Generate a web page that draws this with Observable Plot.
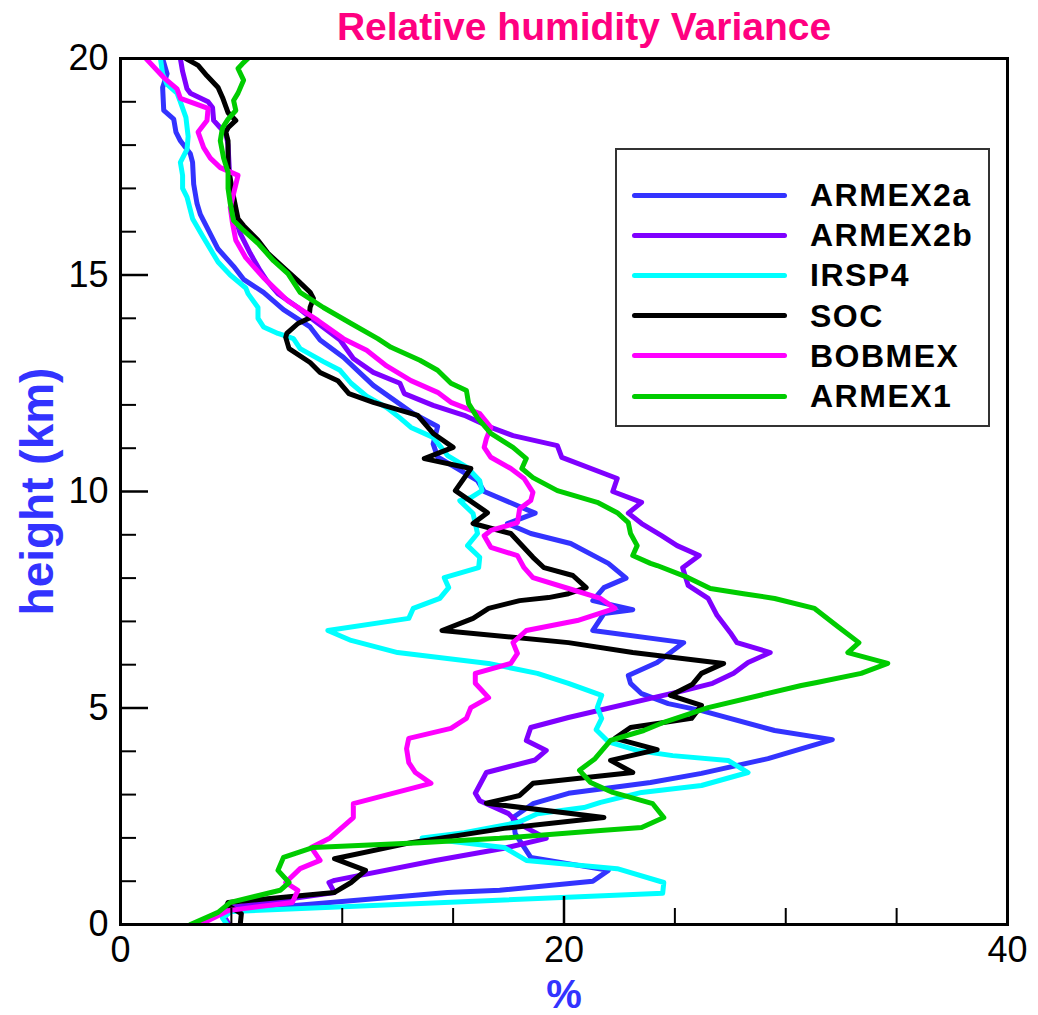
<!DOCTYPE html>
<html>
<head>
<meta charset="utf-8">
<script src="https://cdn.jsdelivr.net/npm/d3@7"></script>
<script src="https://cdn.jsdelivr.net/npm/@observablehq/plot@0.6"></script>
<style>
  html, body { margin: 0; padding: 0; background: #fff; }
  #wrap { position: relative; width: 1038px; height: 1015px; font-family: "Liberation Sans", Arial, sans-serif; }
  #legend { position: absolute; left: 615px; top: 148px; width: 371px; height: 275px; border: 2px solid #333; background: #fff; }
  #legend .sw { position: absolute; left: 15px; width: 155px; height: 5px; border-radius: 3px; }
  #legend .lb { position: absolute; left: 193px; font-weight: bold; font-size: 32px; letter-spacing: 1.5px; line-height: 32px; color: #000; white-space: nowrap; }
</style>
</head>
<body>
<div id="wrap"><div id="chart"></div><div id="legend"></div></div>
<script>
// ---- data: [relative humidity variance (%), height (km)] ----
const names = ["ARMEX2a", "ARMEX2b", "IRSP4", "SOC", "BOBMEX", "ARMEX1"];
const colors = ["#3333ff", "#7f00ff", "#00ffff", "#000000", "#ff00ff", "#00cc00"];

const armex2a = [[1.9,20.0],[2.1,19.65],[1.9,19.33],[1.95,18.8],[2.4,18.6],[2.5,18.3],[2.7,18.1],[3.15,17.8],[3.25,17.6],[3.3,17.1],[3.45,16.65],[3.6,16.4],[3.9,16.1],[4.4,15.6],[5.1,15.2],[5.55,14.9],[6.45,14.6],[7.35,14.2],[8.55,13.8],[9.0,13.5],[10.05,13.1],[11.4,12.45],[13.2,11.8],[14.3,11.5],[14.1,11.1],[14.3,10.8],[16.1,10.25],[16.4,10.0],[18.7,9.5],[17.45,9.26],[18.5,9.03],[20.3,8.8],[22.0,8.34],[22.8,8.0],[21.8,7.78],[21.3,7.48],[23.1,7.27],[21.8,7.18],[21.3,6.79],[25.4,6.51],[24.2,6.05],[22.9,5.75],[23.0,5.57],[23.5,5.33],[24.7,5.1],[26.2,4.94],[29.5,4.48],[32.1,4.27],[29.2,3.83],[26.2,3.49],[23.9,3.28],[20.2,3.03],[18.6,2.79],[17.7,2.47],[17.8,2.1],[18.5,1.55],[22.0,1.25],[21.3,1.0],[17.1,0.79],[14.75,0.74],[5.1,0.32],[4.6,0.25],[4.8,0.0]];

const armex2b = [[2.7,20.0],[2.8,19.7],[3.0,19.3],[3.15,19.2],[3.95,19.0],[4.15,18.87],[4.2,18.57],[4.5,18.4],[4.75,18.27],[4.85,18.0],[4.9,17.5],[4.95,17.0],[5.05,16.5],[5.4,15.96],[5.85,15.5],[6.3,15.1],[6.6,14.87],[7.1,14.57],[8.0,14.25],[8.6,14.0],[9.9,13.5],[10.5,13.07],[11.4,12.75],[12.6,12.5],[12.8,12.26],[14.1,11.99],[15.5,11.76],[16.7,11.48],[17.7,11.29],[19.7,11.06],[19.9,10.79],[22.4,10.3],[22.2,10.0],[23.5,9.75],[22.9,9.5],[23.5,9.26],[24.4,8.98],[25.1,8.75],[26.1,8.52],[25.35,8.24],[25.6,7.83],[26.5,7.53],[26.9,7.14],[27.5,6.74],[27.8,6.51],[29.3,6.28],[28.3,6.05],[27.65,5.8],[26.7,5.57],[25.4,5.4],[20.2,4.78],[18.5,4.55],[18.3,4.25],[19.2,4.02],[18.7,3.8],[16.5,3.51],[16.0,3.03],[16.2,2.86],[17.5,2.56],[17.95,2.33],[19.2,1.99],[17.3,1.76],[14.2,1.48],[9.65,1.02],[9.4,0.97],[9.65,0.74],[5.0,0.4],[4.6,0.25],[4.9,0.0]];

const irsp4 = [[1.8,20.0],[1.9,19.65],[2.1,19.4],[2.55,19.2],[2.7,19.0],[2.95,18.64],[3.05,18.2],[3.0,17.9],[2.7,17.6],[2.8,17.3],[2.8,17.0],[3.0,16.8],[3.25,16.3],[3.7,15.9],[4.4,15.3],[4.95,15.0],[5.65,14.7],[5.75,14.57],[6.2,14.25],[6.2,14.0],[6.45,13.8],[7.1,13.65],[7.8,13.53],[8.1,13.3],[9.15,13.0],[9.9,12.8],[10.4,12.5],[11.1,12.2],[12.0,11.94],[12.6,11.7],[13.1,11.48],[14.1,11.25],[14.75,10.83],[15.65,10.55],[16.2,10.25],[16.3,10.02],[15.8,9.86],[15.3,9.79],[15.9,9.49],[16.1,9.03],[15.65,8.75],[16.2,8.48],[16.15,8.24],[14.6,8.01],[14.8,7.78],[14.4,7.53],[13.2,7.3],[13.0,7.07],[9.35,6.79],[10.4,6.56],[12.5,6.28],[16.6,6.03],[18.8,5.8],[20.2,5.57],[21.7,5.29],[21.5,5.01],[21.7,4.76],[21.45,4.5],[22.0,4.22],[23.3,4.02],[24.9,3.9],[27.4,3.79],[28.3,3.51],[26.2,3.21],[23.5,3.05],[21.65,2.82],[20.9,2.7],[18.8,2.56],[17.95,2.36],[15.5,2.12],[13.6,2.0],[17.3,1.78],[18.3,1.48],[22.4,1.29],[24.5,0.97],[24.45,0.72],[5.0,0.3],[4.6,0.15],[4.8,0.0]];

const soc = [[2.95,20.0],[3.5,19.84],[3.9,19.6],[4.4,19.33],[4.6,19.1],[4.85,18.75],[5.2,18.57],[4.85,18.4],[4.75,18.3],[4.85,18.1],[4.85,17.5],[5.1,16.8],[5.3,16.3],[5.55,16.14],[6.2,15.8],[6.65,15.5],[7.35,15.17],[8.0,14.87],[8.55,14.6],[8.7,14.46],[8.55,14.25],[8.5,14.0],[8.0,13.88],[7.5,13.65],[7.45,13.56],[7.6,13.3],[8.55,12.98],[9.0,12.75],[9.8,12.56],[10.3,12.26],[11.4,12.06],[13.4,11.76],[14.1,11.34],[15.0,11.02],[13.7,10.76],[15.8,10.53],[15.1,10.02],[16.55,9.51],[15.9,9.26],[17.6,9.03],[18.6,8.48],[19.1,8.24],[20.4,8.06],[21.0,7.78],[20.2,7.64],[19.3,7.55],[18.0,7.48],[16.6,7.3],[15.9,7.07],[14.5,6.79],[20.2,6.51],[23.1,6.28],[27.2,6.03],[26.2,5.8],[25.8,5.55],[24.8,5.29],[26.2,5.06],[25.75,4.76],[23.0,4.55],[22.3,4.3],[24.2,4.04],[22.1,3.79],[23.1,3.51],[18.6,3.26],[18.0,2.98],[16.5,2.8],[21.8,2.47],[17.3,2.22],[13.1,1.89],[9.65,1.52],[11.05,1.25],[10.4,0.97],[9.65,0.74],[4.85,0.51],[4.8,0.45],[5.45,0.25],[5.4,0.0]];

const bobmex = [[1.15,20.0],[1.95,19.56],[2.55,19.3],[2.7,19.08],[3.95,18.85],[3.9,18.57],[3.5,18.3],[3.75,17.94],[4.05,17.7],[4.5,17.48],[5.3,17.3],[5.1,16.88],[4.95,16.56],[5.05,16.2],[5.2,15.8],[5.65,15.4],[6.45,14.94],[7.55,14.4],[8.9,13.95],[10.05,13.53],[11.1,13.26],[12.0,12.9],[13.1,12.56],[14.3,12.29],[14.9,12.06],[16.2,11.8],[16.7,11.48],[16.5,11.22],[16.4,11.02],[16.7,10.79],[17.6,10.53],[18.2,10.3],[18.6,9.98],[18.5,9.79],[18.0,9.6],[17.9,9.28],[16.7,9.1],[16.4,8.98],[16.7,8.71],[17.9,8.52],[18.2,8.24],[18.6,8.01],[20.2,7.76],[21.65,7.53],[22.3,7.3],[20.6,7.02],[18.3,6.79],[17.7,6.51],[17.9,6.26],[17.6,6.03],[16.0,5.8],[16.0,5.57],[16.6,5.24],[15.8,5.01],[15.6,4.76],[14.9,4.53],[13.0,4.3],[12.9,4.06],[13.0,3.74],[13.3,3.51],[14.0,3.26],[10.5,2.79],[10.5,2.47],[9.45,2.0],[8.6,1.78],[9.0,1.48],[8.1,1.29],[7.45,0.97],[8.0,0.79],[7.75,0.51],[4.85,0.32],[3.6,0.0]];

const armex1 = [[5.75,20.0],[5.5,19.88],[5.3,19.77],[5.55,19.5],[5.3,19.2],[5.1,19.03],[5.2,18.8],[4.85,18.6],[4.6,18.4],[4.5,18.1],[4.65,17.7],[4.85,17.37],[4.85,17.0],[4.95,16.65],[5.1,16.26],[5.55,16.03],[6.2,15.73],[6.9,15.33],[7.55,15.03],[8.1,14.6],[9.15,14.25],[10.4,13.88],[11.6,13.53],[12.2,13.33],[13.5,13.03],[14.3,12.8],[14.9,12.5],[15.6,12.33],[15.7,12.03],[16.1,11.7],[16.7,11.34],[17.7,11.02],[18.3,10.76],[18.1,10.53],[18.6,10.32],[19.7,10.02],[21.5,9.75],[22.4,9.51],[22.9,9.28],[23.0,9.03],[23.3,8.75],[23.1,8.52],[23.9,8.34],[24.2,8.29],[25.6,8.01],[26.6,7.76],[28.1,7.64],[29.5,7.53],[31.3,7.3],[32.3,6.9],[33.3,6.51],[32.8,6.28],[34.6,6.03],[33.4,5.8],[31.4,5.59],[30.7,5.52],[26.5,5.01],[24.5,4.67],[23.6,4.48],[22.1,4.25],[21.4,3.83],[20.7,3.56],[21.2,3.28],[22.2,3.05],[24.0,2.79],[24.5,2.47],[23.5,2.24],[21.65,2.17],[17.1,1.99],[13.5,1.89],[8.7,1.78],[7.35,1.55],[7.1,1.25],[7.6,0.97],[7.2,0.79],[4.95,0.51],[4.4,0.28],[3.15,0.0]];

const xLabelTicks = [0, 20, 40];
const xMinorTicks = [5, 10, 15, 25, 30, 35];
const xMajorTicks = [20];
const yLabelTicks = [0, 5, 10, 15, 20];
const yMinorTicks = [1,2,3,4,6,7,8,9,11,12,13,14,16,17,18,19];
const yMajorTicks = [5, 10, 15];

const titleText = "Relative humidity Variance";
const yTitle = "height (km)";
const xTitle = "%";

const seriesData = [armex2a, armex2b, irsp4, soc, bobmex, armex1];

const lineMarks = seriesData.map((d, i) =>
  Plot.line(d, {x: d => d[0], y: d => d[1], stroke: colors[i], strokeWidth: 5,
    strokeLinejoin: "round", strokeLinecap: "round", clip: true, curve: "linear"})
);

const chart = Plot.plot({
  width: 1038, height: 1015,
  marginLeft: 120, marginRight: 31, marginTop: 58, marginBottom: 91,
  x: {domain: [0, 40]},
  y: {domain: [0, 20]},
  style: {fontFamily: "'Liberation Sans', Arial, sans-serif", background: "#fff", color: "#000", overflow: "visible"},
  marks: [
    ...lineMarks,
    Plot.axisX({ticks: xLabelTicks, tickSize: 0, tickPadding: 12, fontSize: 36, label: null, tickFormat: d => String(d)}),
    Plot.axisX({ticks: xMinorTicks, tickSize: 16, dy: -16, fill: "none", label: null, strokeWidth: 2}),
    Plot.axisX({ticks: xMajorTicks, tickSize: 28, dy: -28, fill: "none", label: null, strokeWidth: 2.5}),
    Plot.axisY({ticks: yLabelTicks, tickSize: 0, tickPadding: 12, fontSize: 36, label: null, tickFormat: d => String(d)}),
    Plot.axisY({ticks: yMinorTicks, tickSize: 16, dx: 16, fill: "none", label: null, strokeWidth: 2}),
    Plot.axisY({ticks: yMajorTicks, tickSize: 28, dx: 28, fill: "none", label: null, strokeWidth: 2.5}),
    Plot.frame({strokeWidth: 3}),
    Plot.text([titleText], {text: d => d, frameAnchor: "top", dy: -31, dx: 20, fontSize: 39, fontWeight: "bold", fill: "#ff0080", lineAnchor: "middle"}),
    Plot.text([yTitle], {text: d => d, frameAnchor: "left", dx: -82, rotate: -90, fontSize: 46, fontWeight: "bold", fill: "#3333ff", lineAnchor: "middle", textAnchor: "middle"}),
    Plot.text([xTitle], {text: d => d, frameAnchor: "bottom", dy: 71, fontSize: 40, fontWeight: "bold", fill: "#3333ff", lineAnchor: "middle"})
  ]
});
document.getElementById("chart").appendChild(chart);

// legend
const legend = document.getElementById("legend");
names.forEach((n, i) => {
  const cy = 45 + i * 40.2;
  const sw = document.createElement("div");
  sw.className = "sw"; sw.style.top = (cy - 2.5) + "px"; sw.style.background = colors[i];
  const lb = document.createElement("div");
  lb.className = "lb"; lb.style.top = (cy - 16) + "px"; lb.textContent = n;
  legend.appendChild(sw); legend.appendChild(lb);
});
</script>
</body>
</html>
